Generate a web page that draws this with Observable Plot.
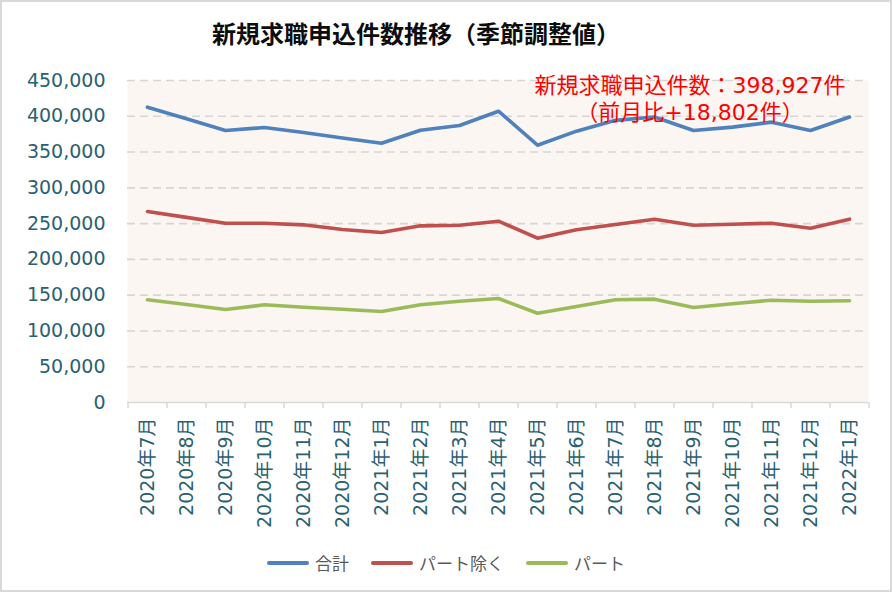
<!DOCTYPE html>
<html>
<head>
<meta charset="utf-8">
<script src="https://cdn.jsdelivr.net/npm/d3@7"></script>
<script src="https://cdn.jsdelivr.net/npm/@observablehq/plot@0.6"></script>
<style>
  body { margin: 0; background: #fff; }
  #wrap { position: relative; width: 892px; height: 592px; background: #fff; overflow: hidden; }
  #title { position: absolute; left: 0; top: 19px; width: 832px; text-align: center;
    font: bold 24px/28px "Noto Sans CJK JP", sans-serif; color: #0d0d0d; }
  #chart { position: absolute; left: 0; top: 60px; }
  #legend { position: absolute; left: 0; top: 552px; width: 892px; display: flex; justify-content: center;
    gap: 22px; font: 17px/22px "Noto Sans CJK JP", sans-serif; color: #595959; }
  .item { display: flex; align-items: center; gap: 6px; }
  .sw { width: 42px; height: 4px; border-radius: 2px; }
  #border { position: absolute; inset: 0; border: 2px solid #d9d9d9; pointer-events: none; }
</style>
</head>
<body>
<div id="wrap">
  <div id="title">新規求職申込件数推移（季節調整値）</div>
  <div id="chart"></div>
  <div id="legend"></div>
  <div id="border"></div>
</div>
<script>
const months = ["2020年7月","2020年8月","2020年9月","2020年10月","2020年11月","2020年12月",
  "2021年1月","2021年2月","2021年3月","2021年4月","2021年5月","2021年6月","2021年7月","2021年8月",
  "2021年9月","2021年10月","2021年11月","2021年12月","2022年1月"];
const total = [412700, 396500, 380100, 384300, 377300, 369600, 362400, 380500, 387100, 407100,
  359600, 379200, 394300, 398900, 380200, 384800, 391800, 380125, 398927];
const excludingPart = [266900, 258700, 250600, 250600, 248300, 241800, 237600, 246900, 247800, 253400,
  229600, 241300, 248800, 256200, 247800, 249200, 250600, 243600, 256200];
const part = [143500, 137000, 130000, 136500, 133200, 130400, 127200, 136500, 141600, 145300,
  124800, 134200, 143500, 144400, 132800, 137900, 143000, 141600, 142100];
const seriesNames = ["合計", "パート除く", "パート"];
const seriesColors = ["#4f81bd", "#c0504d", "#9bbb59"];
const yTicks = [0, 50000, 100000, 150000, 200000, 250000, 300000, 350000, 400000, 450000];
const annotationText = ["新規求職申込件数：398,927件", "（前月比+18,802件）"];

const teal = "#2a6170";
const W = 892, H = 480, ML = 127, MR = 24, MT = 20, MB = 138;
const step = (W - ML - MR) / months.length;

const seriesValues = [total, excludingPart, part];
const rows = [];
seriesNames.forEach((s, k) => months.forEach((m, i) => rows.push({series: s, month: m, value: seriesValues[k][i]})));

const chart = Plot.plot({
  width: W, height: H,
  marginLeft: ML, marginRight: MR, marginTop: MT, marginBottom: MB,
  style: {fontFamily: "'DejaVu Sans', 'Noto Sans CJK JP', sans-serif", fontSize: "19px", background: "transparent"},
  x: {type: "point", domain: months, padding: 0.5, label: null},
  y: {domain: [0, 450000], label: null},
  color: {domain: seriesNames, range: seriesColors},
  marks: [
    Plot.frame({fill: "#fbf6f2", stroke: null}),
    Plot.gridY(yTicks.filter(v => v > 0), {stroke: "#d6d6d6", strokeOpacity: 1, strokeWidth: 1.6, strokeDasharray: "8,5"}),
    Plot.ruleY([0], {stroke: "#d9d9d9", strokeWidth: 1.5}),
    Plot.ruleX(months, {x: d => d, y1: 0, y2: 0, insetBottom: -6, dx: -step / 2, stroke: "#d9d9d9", strokeWidth: 1.5}),
    Plot.ruleX(months.slice(-1), {x: d => d, y1: 0, y2: 0, insetBottom: -6, dx: step / 2, stroke: "#d9d9d9", strokeWidth: 1.5}),
    Plot.axisY(yTicks, {tickSize: 0, tickPadding: 22, tickFormat: d3.format(","), fill: teal, fontSize: 19, label: null, style: "letter-spacing:1px"}),
    Plot.axisX({tickSize: 0, tickRotate: -90, tickPadding: 15, fill: teal, fontSize: 19, label: null}),
    Plot.line(rows, {x: "month", y: "value", z: "series", stroke: "series", strokeWidth: 3.6, strokeLinejoin: "round", strokeLinecap: "round"}),
    Plot.text([annotationText.join("\n")], {frameAnchor: "top", dx: 192, dy: 17, lineAnchor: "middle", lineHeight: 1.22,
      fill: "#ff0000", fontSize: 22, fontFamily: "'DejaVu Sans', 'Noto Sans CJK JP', sans-serif", style: "letter-spacing:0.8px"})
  ]
});
document.getElementById("chart").appendChild(chart);

const legend = document.getElementById("legend");
seriesNames.forEach((s, k) => {
  const it = document.createElement("div");
  it.className = "item";
  it.innerHTML = `<span class="sw" style="background:${seriesColors[k]}"></span><span>${s}</span>`;
  legend.appendChild(it);
});
</script>
</body>
</html>
